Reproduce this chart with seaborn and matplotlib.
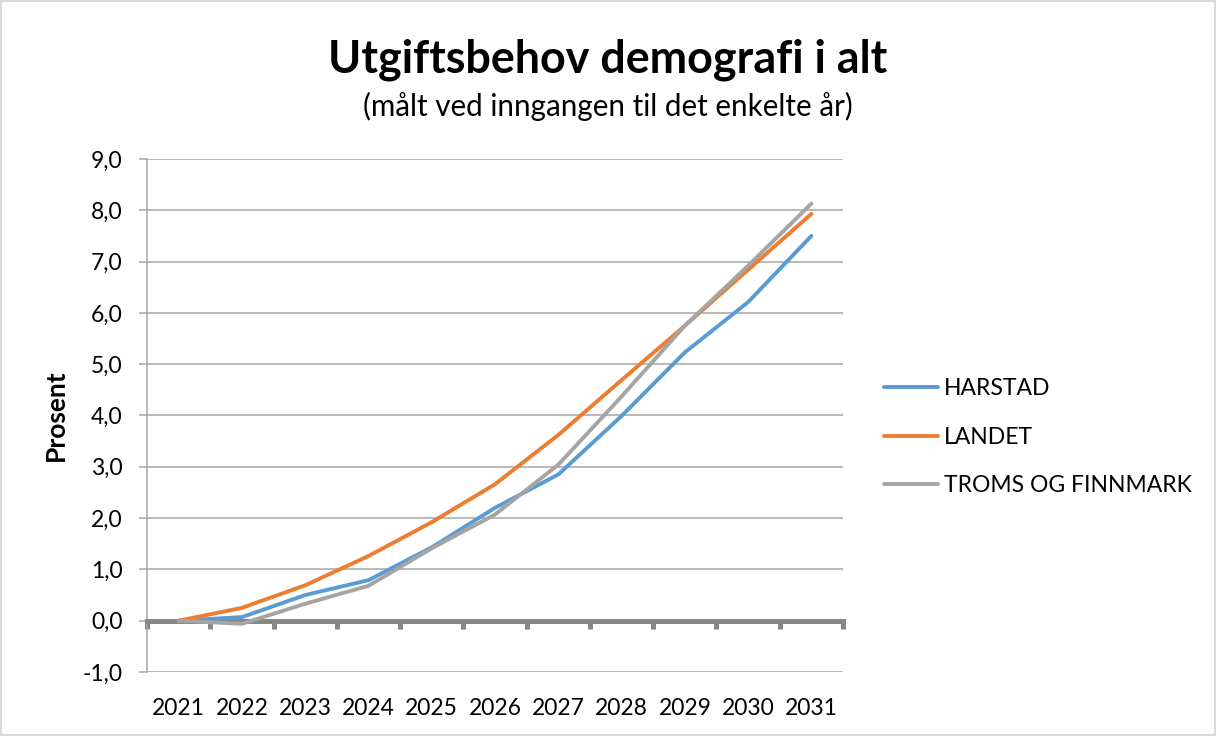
import matplotlib
matplotlib.use("Agg")
import matplotlib.pyplot as plt
import seaborn as sns
import pandas as pd
from matplotlib.ticker import FixedLocator

# ---- data ----
years = [2021, 2022, 2023, 2024, 2025, 2026, 2027, 2028, 2029, 2030, 2031]
harstad = [0.0, 0.07, 0.50, 0.79, 1.43, 2.20, 2.85, 3.99, 5.23, 6.21, 7.50]
landet = [0.0, 0.25, 0.69, 1.26, 1.92, 2.66, 3.62, 4.69, 5.75, 6.84, 7.93]
troms = [0.0, -0.06, 0.33, 0.68, 1.41, 2.07, 3.04, 4.37, 5.75, 6.92, 8.13]
series_names = ["HARSTAD", "LANDET", "TROMS OG FINNMARK"]
y_ticks = [-1, 0, 1, 2, 3, 4, 5, 6, 7, 8, 9]
y_tick_labels = ["-1,0", "0,0", "1,0", "2,0", "3,0", "4,0", "5,0", "6,0", "7,0", "8,0", "9,0"]
title = "Utgiftsbehov demografi i alt"
subtitle = "(målt ved inngangen til det enkelte år)"
y_label = "Prosent"

df = pd.concat([
    pd.DataFrame({"year": years, "value": vals, "series": name})
    for name, vals in zip(series_names, [harstad, landet, troms])
])

sns.set_theme(style="white")
plt.rcParams["font.family"] = ["Lato", "DejaVu Sans"]
plt.rcParams["text.color"] = "black"
plt.rcParams["axes.labelcolor"] = "black"
plt.rcParams["xtick.labelcolor"] = "black"
plt.rcParams["ytick.labelcolor"] = "black"

FONT = 16.5
GRID = "#a6a6a6"
AXIS = "#878787"

fig = plt.figure(figsize=(12.16, 7.36), dpi=100, linewidth=1.5, edgecolor="#d9d9d9")
ax = fig.add_axes([147 / 1216, 1 - 672 / 736, (843 - 147) / 1216, (672 - 159) / 736])

palette = ["#5B9BD5", "#ED7D31", "#A5A5A5"]
sns.lineplot(data=df, x="year", y="value", hue="series", hue_order=series_names,
             palette=palette, linewidth=2.8, ax=ax, sort=False, legend=True,
             solid_capstyle="round", solid_joinstyle="round", zorder=5)

ax.set_xlim(years[0] - 0.5, years[-1] + 0.5)
ax.set_ylim(y_ticks[0], y_ticks[-1])
ax.set_yticks(y_ticks)
ax.set_yticklabels(y_tick_labels, fontsize=FONT, color="black")
ax.yaxis.grid(True, color=GRID, linewidth=1.1)
ax.xaxis.grid(False)
ax.tick_params(axis="y", which="major", left=True, length=5.5, width=1.1, color=GRID, pad=12)

for s in ["top", "right"]:
    ax.spines[s].set_visible(False)
ax.spines["left"].set_color(GRID)
ax.spines["left"].set_linewidth(1.1)
ax.spines["bottom"].set_position(("data", 0))
ax.spines["bottom"].set_color(AXIS)
ax.spines["bottom"].set_linewidth(3.6)
ax.spines["bottom"].set_zorder(3)

# category boundary tick marks on the zero axis
ax.xaxis.set_major_locator(FixedLocator([y - 0.5 for y in years] + [years[-1] + 0.5]))
ax.tick_params(axis="x", which="major", bottom=True, length=5.5, width=3.6,
               color=AXIS, labelbottom=False)

# year labels at the bottom of the plot area
sec = ax.secondary_xaxis(0)
sec.set_xticks(years)
sec.set_xticklabels([str(y) for y in years], fontsize=FONT, color="black")
sec.tick_params(length=0, pad=19)
sec.spines["bottom"].set_visible(False)

ax.set_xlabel("")
ax.set_ylabel(y_label, fontsize=19, fontweight="bold", color="black")
ax.yaxis.set_label_coords(-0.114, 0.5)

leg = ax.legend(loc="center left", bbox_to_anchor=(1.059, 0.458), frameon=False,
                fontsize=FONT, handlelength=2.35, handletextpad=0.25,
                labelspacing=1.2, borderpad=0, borderaxespad=0)
for line in leg.get_lines():
    line.set_linewidth(2.8)
for t in leg.get_texts():
    t.set_color("black")

fig.text(0.5, 1 - 60 / 736, title, ha="center", va="center", fontsize=32.3,
         fontweight="bold", color="black")
fig.text(0.5, 1 - 106 / 736, subtitle, ha="center", va="center", fontsize=21.3,
         color="black")

fig.savefig("out.png", dpi=100)
